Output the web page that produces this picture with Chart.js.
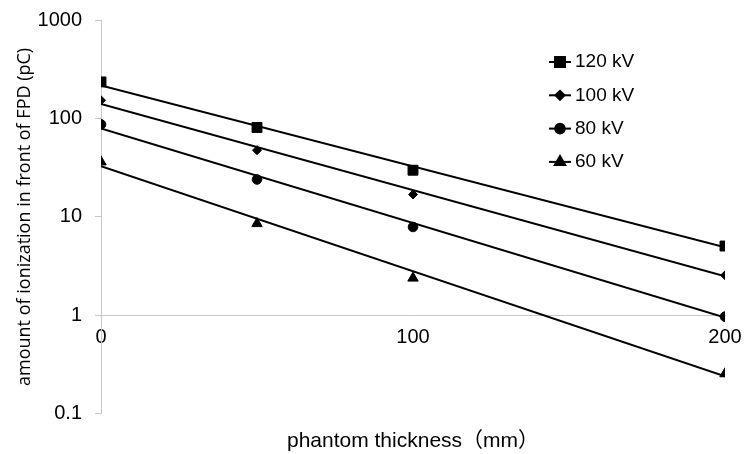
<!DOCTYPE html>
<html>
<head>
<meta charset="utf-8">
<script src="https://cdn.jsdelivr.net/npm/chart.js@4.4.1/dist/chart.umd.min.js"></script>
<style>
html, body { margin: 0; padding: 0; background: #fff; }
</style>
</head>
<body>
<canvas id="myChart" width="747" height="454"></canvas>
<script>
// measured values (pC) at each phantom thickness (mm)
var thickness = [0, 50, 100, 200];
var kv120 = [235, 81, 29.8, 5.06];
var kv100 = [153, 47.6, 16.9, 2.55];
var kv80 = [87, 24, 7.9, 0.97];
var kv60 = [36.2, 8.55, 2.39, 0.255];

// exponential trendlines, start and end values
var trendX = [0, 200];
var trend120 = [216, 4.9];
var trend100 = [140, 2.5];
var trend80 = [79, 0.95];
var trend60 = [32.7, 0.24];

var seriesNames = ['120 kV', '100 kV', '80 kV', '60 kV'];
var yTicks = [0.1, 1, 10, 100, 1000];
var xTicks = [0, 100, 200];

var markers = ['rect', 'rectRot', 'circle', 'triangle'];
var markerSizes = [7, 4.5, 4.8, 6];
var gray = '#c8c8c8';

function pts(xs, ys) {
    return xs.map(function (x, i) { return { x: x, y: ys[i] }; });
}

var values = [kv120, kv100, kv80, kv60];
var trends = [trend120, trend100, trend80, trend60];
var datasets = [];
for (var i = 0; i < values.length; i++) {
    datasets.push({
        label: seriesNames[i] + ' trend',
        data: pts(trendX, trends[i]),
        showLine: true,
        borderColor: '#000',
        borderWidth: 2,
        pointRadius: 0
    });
    datasets.push({
        label: seriesNames[i],
        data: pts(thickness, values[i]),
        showLine: false,
        pointStyle: markers[i],
        pointRadius: markerSizes[i],
        backgroundColor: '#000',
        borderColor: '#000',
        borderWidth: 1
    });
}

var sideLegend = {
    id: 'sideLegend',
    afterDraw: function (chart) {
        var c = chart.ctx;
        c.save();
        for (var i = 0; i < seriesNames.length; i++) {
            var y = 62 + i * 33.3;
            c.strokeStyle = '#000';
            c.lineWidth = 2;
            c.beginPath();
            c.moveTo(549, y);
            c.lineTo(571, y);
            c.stroke();
            c.fillStyle = '#000';
            Chart.helpers.drawPoint(c, { pointStyle: markers[i], radius: markerSizes[i], borderWidth: 1, rotation: 0 }, 560, y);
            c.font = '19px "Liberation Sans", Arial, sans-serif';
            c.textBaseline = 'middle';
            c.textAlign = 'left';
            c.fillText(seriesNames[i], 575, y);
        }
        c.restore();
    }
};

var ctx = document.getElementById('myChart').getContext('2d');
var myChart = new Chart(ctx, {
    type: 'scatter',
    data: { datasets: datasets },
    plugins: [sideLegend],
    options: {
        responsive: false,
        animation: false,
        layout: { padding: { left: 10, top: 20, right: 22, bottom: 0 } },
        plugins: {
            legend: { display: false },
            tooltip: { enabled: false },
            title: {
                display: true,
                position: 'bottom',
                fullSize: false,
                text: 'phantom thickness\uff08mm\uff09',
                color: '#000',
                font: { family: '"Liberation Sans", "Noto Sans CJK JP", sans-serif', size: 21, weight: 'normal' },
                padding: { top: 15, bottom: 0 }
            }
        },
        scales: {
            x: {
                type: 'linear',
                min: 0,
                max: 200,
                position: { y: 1 },
                afterBuildTicks: function (axis) {
                    axis.ticks = xTicks.map(function (v) { return { value: v }; });
                },
                afterFit: function (axis) {
                    axis.paddingLeft = 0;
                    axis.paddingRight = 0;
                },
                grid: { display: true, drawOnChartArea: false, drawTicks: false },
                border: { color: gray, width: 1 },
                ticks: {
                    color: '#000',
                    padding: 10,
                    maxRotation: 0,
                    font: { family: '"Liberation Sans", Arial, sans-serif', size: 20 }
                }
            },
            y: {
                type: 'logarithmic',
                min: 0.1,
                max: 1000,
                position: 'left',
                afterBuildTicks: function (axis) {
                    axis.ticks = yTicks.map(function (v) { return { value: v }; });
                },
                afterFit: function (axis) {
                    axis.width = 91;
                    axis.paddingTop = 0;
                    axis.paddingBottom = 0;
                },
                grid: { drawOnChartArea: false, color: gray, tickLength: 6 },
                border: { color: gray, width: 1 },
                ticks: {
                    color: '#000',
                    padding: 13,
                    font: { family: '"Liberation Sans", Arial, sans-serif', size: 20 },
                    callback: function (v) { return String(v); }
                },
                title: {
                    display: true,
                    text: 'amount of ionization in front of FPD (pC)',
                    color: '#000',
                    font: { family: '"Open Sans", sans-serif', size: 18 },
                    padding: { top: 4, bottom: 3 }
                }
            }
        }
    }
});
</script>
</body>
</html>
